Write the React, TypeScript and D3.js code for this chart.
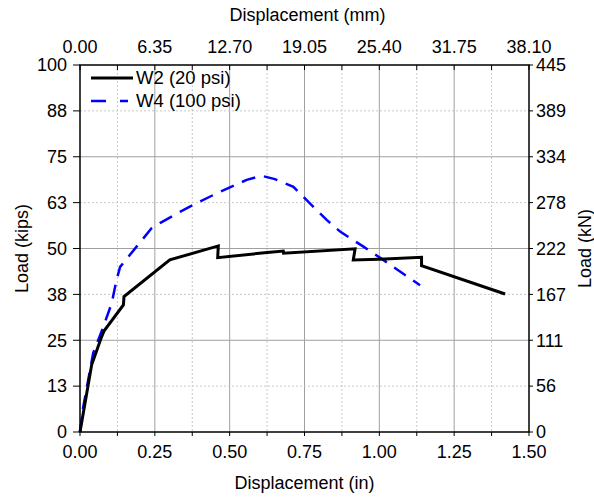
import React from "react";
import * as d3 from "d3";

const w2Disp = [0, 0.039, 0.07, 0.08, 0.145, 0.147, 0.3, 0.462, 0.46, 0.635, 0.679, 0.68, 0.919, 0.913, 1.0, 1.141, 1.141, 1.42];
const w2Load = [0, 18.3, 25.5, 27.5, 34.6, 36.9, 46.9, 50.7, 47.5, 49.0, 49.3, 48.7, 49.9, 46.9, 47.1, 47.6, 45.3, 37.6];

const w4Disp = [0, 0.011, 0.044, 0.078, 0.106, 0.122, 0.134, 0.189, 0.239, 0.267, 0.334, 0.379, 0.451, 0.557, 0.607, 0.651, 0.713, 0.768, 0.824, 0.869, 0.947, 1.013, 1.08, 1.136];
const w4Load = [0, 6.9, 21.5, 28.7, 35.1, 41.4, 45.0, 50.5, 55.5, 56.9, 60.0, 61.9, 64.8, 68.7, 69.8, 68.9, 66.8, 62.3, 57.8, 54.6, 50.5, 46.9, 43.1, 40.0];

const xTicksIn = [0, 0.25, 0.5, 0.75, 1.0, 1.25, 1.5];
const xTickLabelsIn = ["0.00", "0.25", "0.50", "0.75", "1.00", "1.25", "1.50"];
const xTickLabelsMm = ["0.00", "6.35", "12.70", "19.05", "25.40", "31.75", "38.10"];
const yTicksKips = [0, 12.5, 25, 37.5, 50, 62.5, 75, 87.5, 100];
const yTickLabelsKips = ["0", "13", "25", "38", "50", "63", "75", "88", "100"];
const yTickLabelsKN = ["0", "56", "111", "167", "222", "278", "334", "389", "445"];

const seriesNames = ["W2 (20 psi)", "W4 (100 psi)"];

export default function App() {
  const W = 594, H = 497;
  const x = d3.scaleLinear().domain([0, 1.5]).range([80, 529]);
  const y = d3.scaleLinear().domain([0, 100]).range([432, 65]);
  const minorX = d3.range(0, 1.5001, 0.125);
  const font = "'Liberation Sans', Arial, sans-serif";
  const fs = 18;

  const line = d3.line<[number, number]>().x(d => x(d[0])).y(d => y(d[1]));
  const w2 = line(w2Disp.map((d, i) => [d, w2Load[i]] as [number, number]));
  const w4 = line(w4Disp.map((d, i) => [d, w4Load[i]] as [number, number]));

  const [x0, x1] = x.range();
  const [y0, y1] = y.range();

  return (
    <svg width={W} height={H} style={{ position: "absolute", left: 0, top: 0 }} fontFamily={font}>
      <rect width={W} height={H} fill="white" />
      {/* grid */}
      {minorX.map((v, i) => {
        const major = i % 2 === 0;
        if (v === 0 || v === 1.5) return null;
        return (
          <line key={"gx" + i} x1={x(v)} x2={x(v)} y1={y1} y2={y0}
            stroke={major ? "#a0a0a0" : "#c8c8c8"} strokeWidth={1}
            strokeDasharray={major ? undefined : "2,2"} />
        );
      })}
      {yTicksKips.map((v, i) => {
        const major = i % 2 === 0;
        if (v === 0 || v === 100) return null;
        return (
          <line key={"gy" + i} x1={x0} x2={x1} y1={y(v)} y2={y(v)}
            stroke={major ? "#a0a0a0" : "#c8c8c8"} strokeWidth={1}
            strokeDasharray={major ? undefined : "2,2"} />
        );
      })}
      {/* frame */}
      <rect x={x0} y={y1} width={x1 - x0} height={y0 - y1} fill="none" stroke="black" strokeWidth={1.5} />
      {/* ticks */}
      {minorX.map((v, i) => (
        <g key={"tx" + i}>
          <line x1={x(v)} x2={x(v)} y1={y0} y2={y0 + 4} stroke="black" strokeWidth={1} />
          <line x1={x(v)} x2={x(v)} y1={y1} y2={y1 + 5} stroke="black" strokeWidth={1} />
        </g>
      ))}
      {yTicksKips.map((v, i) => (
        <g key={"ty" + i}>
          <line x1={x0 - 7} x2={x0} y1={y(v)} y2={y(v)} stroke="black" strokeWidth={1} />
          <line x1={x1} x2={x1 + 4} y1={y(v)} y2={y(v)} stroke="black" strokeWidth={1} />
          <text x={x0 - 13} y={y(v)} dy="0.35em" textAnchor="end" fontSize={fs}>{yTickLabelsKips[i]}</text>
          <text x={x1 + 7} y={y(v)} dy="0.35em" textAnchor="start" fontSize={fs}>{yTickLabelsKN[i]}</text>
        </g>
      ))}
      {xTicksIn.map((v, i) => (
        <g key={"lx" + i}>
          <text x={x(v)} y={458} textAnchor="middle" fontSize={fs}>{xTickLabelsIn[i]}</text>
          <text x={x(v)} y={53} textAnchor="middle" fontSize={fs}>{xTickLabelsMm[i]}</text>
        </g>
      ))}
      {/* titles */}
      <text x={(x0 + x1) / 2 + 3} y={21} textAnchor="middle" fontSize={fs}>Displacement (mm)</text>
      <text x={(x0 + x1) / 2} y={489} textAnchor="middle" fontSize={fs}>Displacement (in)</text>
      <text transform={`translate(28,${(y0 + y1) / 2}) rotate(-90)`} textAnchor="middle" fontSize={fs}>Load (kips)</text>
      <text transform={`translate(591,${(y0 + y1) / 2}) rotate(-90)`} textAnchor="middle" fontSize={fs}>Load (kN)</text>
      {/* data */}
      <path d={w4 ?? ""} fill="none" stroke="#0000ff" strokeWidth={2.5} strokeDasharray="14,9" />
      <path d={w2 ?? ""} fill="none" stroke="black" strokeWidth={3} strokeLinejoin="miter" />
      {/* legend */}
      <line x1={91} x2={133} y1={78} y2={78} stroke="black" strokeWidth={3} />
      <text x={136} y={78} dy="0.35em" fontSize={18.5}>{seriesNames[0]}</text>
      <line x1={91} x2={128} y1={101} y2={101} stroke="#0000ff" strokeWidth={2.5} strokeDasharray="15,14" />
      <text x={136} y={101} dy="0.35em" fontSize={18.5}>{seriesNames[1]}</text>
    </svg>
  );
}
